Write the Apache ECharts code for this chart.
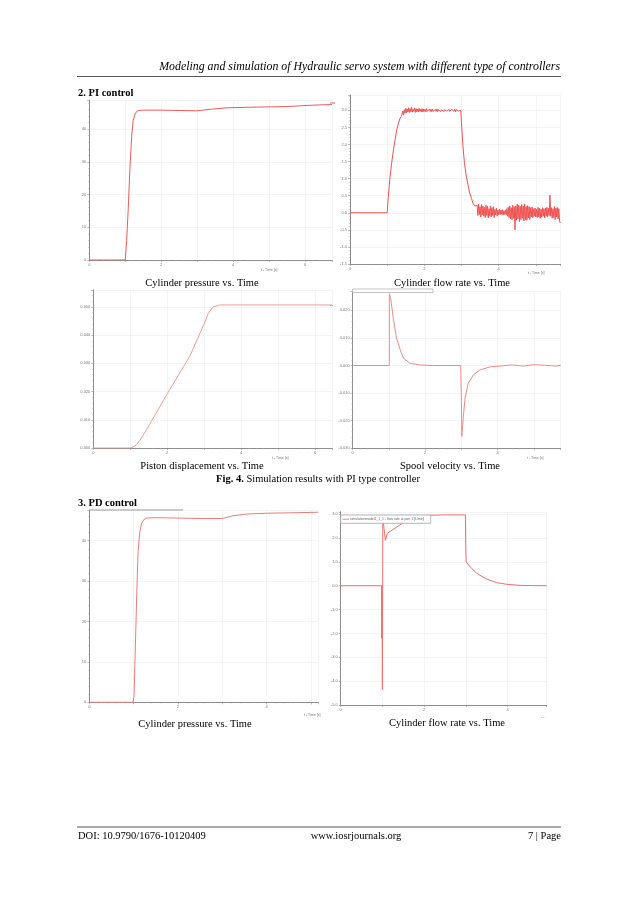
<!DOCTYPE html>
<html><head><meta charset="utf-8">
<script src="https://cdn.jsdelivr.net/npm/echarts@6/dist/echarts.min.js"></script>
<style>html,body{margin:0;padding:0;background:#fff}#c{width:638px;height:903px}</style>
</head><body><div id="c"></div>
<script>
// ---------- DATA ----------
// PI control: cylinder pressure vs time
const piPressT = [0, 1.0, 1.04, 1.08, 1.13, 1.18, 1.22, 1.27, 1.32, 1.38, 1.5, 2.0, 2.5, 3.0, 3.4, 3.8, 4.5, 5.0, 5.5, 6.0, 6.4, 6.75];
const piPressV = [0, 0, 6, 15, 28, 38, 42.6, 44.6, 45.4, 45.7, 45.8, 45.8, 45.7, 45.6, 46.1, 46.5, 46.7, 46.8, 46.9, 47.2, 47.4, 47.5];

// PI control: cylinder flow rate vs time
const piFlowRiseT = [0, 1.0, 1.03, 1.07, 1.12, 1.17, 1.22, 1.26, 1.30, 1.34, 1.38];
const piFlowRiseV = [0, 0, 0.45, 0.97, 1.45, 1.85, 2.18, 2.44, 2.60, 2.75, 2.82];
const piFlowPlateauStart = 1.40, piFlowStep = 0.02;
const piFlowPlateauNoise = [
  2.88,2.98,2.86,3.02,2.92,3.06,2.93,3.04,2.95,3.08,
  2.94,3.05,2.96,3.09,2.95,3.03,2.97,3.07,2.94,3.05,
  2.96,3.04,2.95,3.06,2.97,3.03,2.96,3.05,2.95,3.04,
  2.97,3.03,2.96,3.05,2.97,3.02,2.96,3.04,2.97,3.03,
  2.96,3.04,2.97,3.02,2.96,3.03,2.97,3.04,2.96,3.02,
  2.97,3.03,2.96,3.02,2.97,3.04,2.96,3.02,2.97,3.03,
  2.98,3.02,2.96,3.03,2.97,3.02,2.96,3.03,2.98,3.02,
  2.97,3.03,2.96,3.02,2.97,3.03,2.98,3.02,2.97,3.00];
const piFlowDropT = [3.0, 3.04, 3.08, 3.13, 3.18, 3.22, 3.27, 3.31, 3.36, 3.40];
const piFlowDropV = [2.64, 1.95, 1.45, 1.07, 0.80, 0.58, 0.42, 0.28, 0.20, 0.15];
const piFlowTailStart = 3.42;
const piFlowTailNoise = [
  0.22,-0.08,0.25,-0.05,0.18,-0.12,0.24,-0.06,0.20,-0.10,
  0.16,-0.14,0.22,-0.08,0.19,-0.15,0.12,-0.10,0.20,-0.12,
  0.15,-0.08,0.18,-0.14,0.10,-0.06,0.14,-0.10,0.08,-0.05,
  0.10,-0.06,0.08,-0.04,0.09,-0.07,0.06,-0.05,0.08,-0.06,
  0.12,-0.10,0.16,-0.14,0.20,-0.18,0.15,-0.20,0.22,-0.16,
  0.18,-0.50,0.20,-0.22,0.25,-0.18,0.22,-0.26,0.19,-0.20,
  0.24,-0.16,0.20,-0.24,0.26,-0.20,0.18,-0.22,0.21,-0.15,
  0.18,-0.20,0.15,-0.12,0.17,-0.14,0.12,-0.10,0.14,-0.12,
  0.10,-0.14,0.16,-0.12,0.13,-0.16,0.11,-0.13,0.15,-0.10,
  0.12,-0.15,0.14,-0.10,0.16,-0.12,0.13,-0.08,0.52,-0.10,
  0.15,-0.16,0.12,-0.14,0.18,-0.20,0.14,-0.12,0.16,-0.18,
  0.12,-0.25,-0.30];

// PI control: piston displacement vs time
const pistonT = [0, 1.0, 1.08, 1.17, 1.26, 1.44, 2.0, 2.61, 2.97, 3.11, 3.24, 3.42, 4.0, 5.0, 6.0, 6.46];
const pistonV = [0, 0, 0.0004, 0.0012, 0.0027, 0.0065, 0.0192, 0.0325, 0.0431, 0.0476, 0.0500, 0.0507, 0.0507, 0.0507, 0.0507, 0.0507];

// PI control: spool velocity vs time
const spoolT = [0, 1.01, 1.012, 1.05, 1.12, 1.21, 1.31, 1.40, 1.58, 1.86, 2.2, 2.98, 2.99, 3.0, 3.01, 3.05, 3.10, 3.19, 3.33, 3.51, 3.79, 4.16, 4.4, 4.7, 5.0, 5.3, 5.6, 5.74];
const spoolV = [0, 0, 0.026, 0.0243, 0.0171, 0.0099, 0.0057, 0.0027, 0.0008, 0.0002, 0, 0, 0, -0.013, -0.0257, -0.019, -0.0118, -0.0064, -0.0034, -0.0016, -0.0005, -0.0001, 0.0002, -0.0002, 0.0003, 0.0001, -0.0002, 0.0001];

// PD control: cylinder pressure vs time
const pdPressT = [0, 0.99, 1.01, 1.03, 1.07, 1.10, 1.14, 1.18, 1.22, 1.29, 1.5, 2.0, 2.5, 3.0, 3.25, 3.55, 4.0, 4.5, 5.0, 5.16];
const pdPressV = [0, 0, 1.8, 10, 26.5, 37.3, 42.3, 44.3, 45.1, 45.6, 45.7, 45.6, 45.5, 45.5, 46.2, 46.6, 46.8, 46.9, 47.0, 47.05];

// PD control: cylinder flow rate vs time
const pdFlowT = [0, 0.98, 0.985, 0.99, 1.0, 1.01, 1.03, 1.07, 1.12, 1.25, 1.42, 1.7, 2.0, 2.5, 2.99, 3.0, 3.01, 3.1, 3.26, 3.5, 3.74, 3.98, 4.3, 4.6, 4.94];
const pdFlowV = [0, 0, -2.2, 0, -4.35, 2.8, 2.55, 1.9, 2.2, 2.35, 2.55, 2.85, 2.95, 2.97, 2.97, 1.5, 1.0, 0.8, 0.52, 0.28, 0.13, 0.06, 0.015, 0.005, 0];

// tick labels / texts
const headerText = 'Modeling and simulation of Hydraulic servo system with different type of controllers';
const captions = ['Cylinder pressure vs. Time', 'Cylinder flow rate vs. Time', 'Piston displacement vs. Time', 'Spool velocity vs. Time', 'Cylinder pressure vs. Time', 'Cylinder flow rate vs. Time'];
const sectionTitles = ['2. PI control', '3. PD control'];
const xAxisName = 't - Time [s]';
const legendText = 'simulationmodel1_1_1 - flow rate at port 1 [L/min]';

// ---------- BUILD ----------
function zip(t, v) { return t.map((x, i) => [x, v[i]]); }
function seq(start, step, vals) { return vals.map((v, i) => [+(start + i * step).toFixed(4), v]); }

const piPress = zip(piPressT, piPressV);
const piFlow = zip(piFlowRiseT, piFlowRiseV)
  .concat(seq(piFlowPlateauStart, piFlowStep, piFlowPlateauNoise))
  .concat(zip(piFlowDropT, piFlowDropV))
  .concat(seq(piFlowTailStart, piFlowStep, piFlowTailNoise));
const piston = zip(pistonT, pistonV);
const spool = zip(spoolT, spoolV);
const pdPress = zip(pdPressT, pdPressV);
const pdFlow = zip(pdFlowT, pdFlowV);

const grids = [
  {left: 89.3, top: 100, width: 242.7, height: 160},
  {left: 350, top: 95, width: 210.7, height: 169},
  {left: 93.3, top: 290, width: 238.7, height: 158},
  {left: 352.7, top: 291, width: 208, height: 157.3},
  {left: 89.3, top: 510, width: 228.7, height: 192.3},
  {left: 340.7, top: 511.8, width: 206, height: 193.2}
];
const axisCfg = [
  {xmax: 6.75, ymin: 0, ymax: 48.9, yint: 10, dec: 0},
  {xmax: 5.67, ymin: -1.5, ymax: 3.45, yint: 0.5, dec: 1},
  {xmax: 6.46, ymin: 0, ymax: 0.056, yint: 0.01, dec: 3},
  {xmax: 5.74, ymin: -0.03, ymax: 0.027, yint: 0.01, dec: 3},
  {xmax: 5.16, ymin: 0, ymax: 47.6, yint: 10, dec: 0},
  {xmax: 4.94, ymin: -5, ymax: 3.1, yint: 1, dec: 1}
];
const seriesData = [piPress, piFlow, piston, spool, pdPress, pdFlow];
const lineColors = ['#ec5a5a', '#f05050', '#f29a9a', '#ef8a8a', '#ef7a7a', '#ef6f6f'];

const axisGray = '#8d8d8d';
const xAxes = axisCfg.map((c, i) => ({
  gridIndex: i, type: 'value', min: 0, max: c.xmax, interval: 1,
  axisLine: {onZero: false, lineStyle: {color: axisGray, width: 1}},
  axisTick: {show: true, length: 2, lineStyle: {color: axisGray, width: 0.6}},
  minorTick: {show: true, splitNumber: 5, length: 1.2, lineStyle: {color: '#aaa', width: 0.5}},
  axisLabel: {fontSize: 4, color: '#777', margin: 3,
    formatter: v => { const r = Math.round(v); return (Math.abs(v - r) < 1e-6 && r % 2 === 0) ? String(r) : ''; }},
  splitLine: {show: true, lineStyle: {color: '#ededed', width: 0.6}}
}));
const yAxes = axisCfg.map((c, i) => ({
  gridIndex: i, type: 'value', min: c.ymin, max: c.ymax, interval: c.yint,
  axisLine: {show: true, onZero: false, lineStyle: {color: axisGray, width: 1}},
  axisTick: {show: true, length: 2, lineStyle: {color: axisGray, width: 0.6}},
  minorTick: {show: true, splitNumber: 5, length: 1.2, lineStyle: {color: '#aaa', width: 0.5}},
  axisLabel: {fontSize: 4, color: '#777', margin: 3,
    formatter: v => { const k = (v - c.ymin) / c.yint; const r = Math.round(k);
      if (Math.abs(k - r) > 1e-6) return ''; let val = c.ymin + r * c.yint; if (Math.abs(val) < 1e-9) val = 0; return val.toFixed(c.dec); }},
  splitLine: {show: true, lineStyle: {color: '#ededed', width: 0.6}}
}));
const series = seriesData.map((d, i) => ({
  type: 'line', xAxisIndex: i, yAxisIndex: i, data: d, showSymbol: false, symbol: 'none',
  lineStyle: {color: lineColors[i], width: 1}, clip: true, animation: false, z: 3
}));

const serif = '"Liberation Serif", "Times New Roman", serif';
function txt(x, y, text, size, align, extra) {
  return Object.assign({type: 'text', x: x, y: y, z: 10, silent: true,
    style: {text: text, fill: '#000', font: size + 'px ' + serif, align: align || 'left', verticalAlign: 'middle'}}, extra || {});
}
function smallTxt(x, y, text) {
  return {type: 'text', x: x, y: y, z: 10, silent: true,
    style: {text: text, fill: '#777', font: '3.5px Arial, sans-serif', align: 'left', verticalAlign: 'middle'}};
}
function hline(x1, x2, y, color, w) {
  return {type: 'line', z: 10, silent: true, shape: {x1: x1, y1: y, x2: x2, y2: y}, style: {stroke: color, lineWidth: w}};
}

const graphics = [
  {type: 'text', x: 560, y: 67, z: 10, silent: true,
    style: {text: headerText, fill: '#000', font: 'italic 11.85px ' + serif, align: 'right', verticalAlign: 'middle'}},
  hline(77, 561, 76.5, '#555', 1),
  {type: 'text', x: 78, y: 93, z: 10, silent: true,
    style: {text: sectionTitles[0], fill: '#000', font: 'bold 10.5px ' + serif, align: 'left', verticalAlign: 'middle'}},
  {type: 'text', x: 78, y: 503, z: 10, silent: true,
    style: {text: sectionTitles[1], fill: '#000', font: 'bold 10.5px ' + serif, align: 'left', verticalAlign: 'middle'}},
  txt(202, 283, captions[0], 10.5, 'center'),
  txt(452, 283, captions[1], 10.5, 'center'),
  txt(202, 466.5, captions[2], 10.5, 'center'),
  txt(450, 466.5, captions[3], 10.5, 'center'),
  {type: 'text', x: 318, y: 479.5, z: 10, silent: true,
    style: {text: '{b|Fig. 4.} Simulation results with PI type controller', fill: '#000',
      font: '10.5px ' + serif, align: 'center', verticalAlign: 'middle',
      rich: {b: {font: 'bold 10.5px ' + serif, fill: '#000'}}}},
  txt(195, 724, captions[4], 10.5, 'center'),
  txt(447, 723.5, captions[5], 10.5, 'center'),
  hline(77, 561, 827, '#555', 1),
  txt(78, 836, 'DOI: 10.9790/1676-10120409', 10.5, 'left'),
  txt(356, 836, 'www.iosrjournals.org', 10.5, 'center'),
  txt(561, 836, '7 | Page', 10.5, 'right'),
  // axis names
  smallTxt(261, 270, xAxisName),
  smallTxt(528, 273, xAxisName),
  smallTxt(272, 458, xAxisName),
  smallTxt(527, 458.5, xAxisName),
  smallTxt(304, 715.5, xAxisName),
  smallTxt(541, 717, '- -'),
  // legend remnants
  {type: 'rect', z: 9, silent: true, shape: {x: 352.7, y: 289, width: 80.3, height: 3.5},
    style: {fill: '#fff', stroke: '#b5b5b5', lineWidth: 0.8}},
  hline(90, 183, 510, '#9a9a9a', 1),
  hline(330, 335, 103, '#ec5a5a', 1),
  hline(330, 333, 305.5, '#ef8a8a', 1),
  {type: 'group', z: 9, children: [
    {type: 'rect', z: 9, silent: true, shape: {x: 340.7, y: 515, width: 90, height: 8.3},
      style: {fill: '#fff', stroke: '#a5a5a5', lineWidth: 0.8}},
    hline(342.5, 349, 519.2, '#ef6f6f', 0.8),
    {type: 'text', x: 350, y: 519.2, z: 11, silent: true,
      style: {text: legendText, fill: '#666', font: '3.4px Arial, sans-serif', align: 'left', verticalAlign: 'middle'}}
  ]}
];

const chart = echarts.init(document.getElementById('c'), null, {renderer: 'canvas'});
chart.setOption({
  animation: false,
  backgroundColor: '#fff',
  grid: grids,
  xAxis: xAxes,
  yAxis: yAxes,
  series: series,
  graphic: graphics
});
</script></body></html>
